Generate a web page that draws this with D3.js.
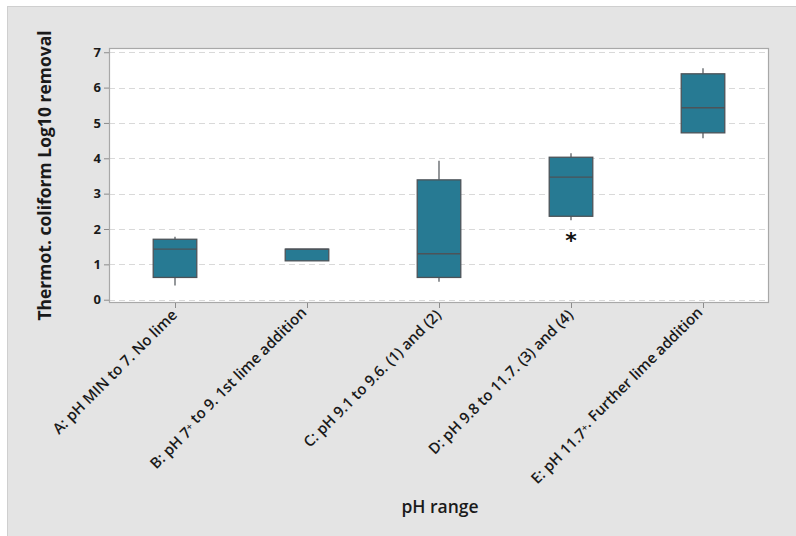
<!DOCTYPE html>
<html>
<head>
<meta charset="utf-8">
<script src="https://cdn.jsdelivr.net/npm/d3@7/dist/d3.min.js"></script>
<style>
  html, body { margin: 0; padding: 0; background: #ffffff; }
  svg { display: block; }
</style>
</head>
<body>
<script>
// pH range groups and their box-plot summaries (Log10 removal)
const categories = [
  "A: pH MIN to 7. No lime",
  "B: pH 7+ to 9. 1st lime addition",
  "C: pH 9.1  to 9.6. (1) and (2)",
  "D: pH 9.8 to 11.7. (3) and (4)",
  "E: pH 11.7+. Further lime addition"
];
const whiskerLow  = [0.40, 1.10, 0.51, 2.25, 4.57];
const q1          = [0.63, 1.10, 0.63, 2.36, 4.72];
const median      = [1.43, 1.43, 1.30, 3.47, 5.43];
const q3          = [1.71, 1.43, 3.39, 4.03, 6.39];
const whiskerHigh = [1.78, 1.43, 3.93, 4.14, 6.55];
const outliers    = [[], [], [], [1.78], []];
const yTicks = [0, 1, 2, 3, 4, 5, 6, 7];

const W = 796, H = 536;
const plot = { left: 109, top: 48, right: 769, bottom: 303 };

const svg = d3.select("body").append("svg")
  .attr("width", W).attr("height", H);

// grey outer panel
svg.append("rect")
  .attr("x", 7.5).attr("y", 6.5)
  .attr("width", W).attr("height", H)
  .attr("fill", "#e4e4e4").attr("stroke", "#cfcfcf");

const x = d3.scalePoint()
  .domain(categories)
  .range([plot.left, plot.right])
  .padding(0.5);

const y = d3.scaleLinear()
  .domain([-0.093, 7.12])
  .range([plot.bottom, plot.top]);

const step = x.step();
const boxW = step * 0.33;

// plotting area
svg.append("rect")
  .attr("x", plot.left).attr("y", plot.top)
  .attr("width", plot.right - plot.left).attr("height", plot.bottom - plot.top)
  .attr("fill", "#ffffff");

// horizontal dashed gridlines
svg.append("g").selectAll("line")
  .data(yTicks)
  .join("line")
  .attr("x1", plot.left).attr("x2", plot.right)
  .attr("y1", d => Math.round(y(d)) + 0.5).attr("y2", d => Math.round(y(d)) + 0.5)
  .attr("stroke", "#d9d9d9")
  .attr("stroke-width", 1)
  .attr("stroke-dasharray", "6,4");

// plot frame
svg.append("rect")
  .attr("x", plot.left + 0.5).attr("y", plot.top + 0.5)
  .attr("width", plot.right - plot.left - 1).attr("height", plot.bottom - plot.top - 1)
  .attr("fill", "none").attr("stroke", "#a8a8a8").attr("stroke-width", 1.2);

// y axis
const yAxis = svg.append("g")
  .attr("transform", `translate(${plot.left},0)`)
  .call(d3.axisLeft(y).tickValues(yTicks).tickSize(5).tickPadding(3).tickFormat(d3.format("d")));
yAxis.select(".domain").remove();
yAxis.selectAll(".tick line").attr("stroke", "#8c8c8c");
yAxis.selectAll(".tick text")
  .attr("fill", "#1a1a1a")
  .style("font-family", "'Noto Sans', 'Open Sans', sans-serif")
  .style("font-size", "13px")
  .style("font-weight", "bold");

// x axis
const xAxis = svg.append("g")
  .attr("transform", `translate(0,${plot.bottom})`)
  .call(d3.axisBottom(x).tickSize(5).tickFormat(""));
xAxis.select(".domain").remove();
xAxis.selectAll(".tick line").attr("stroke", "#8c8c8c");

// rotated category labels, with superscript "+"
const labelG = svg.append("g");
categories.forEach(c => {
  const t = labelG.append("text")
    .attr("transform", `translate(${x(c) + 3},${plot.bottom + 13}) rotate(-45)`)
    .attr("text-anchor", "end")
    .attr("fill", "#1a1a1a")
    .style("font-family", "'Open Sans', 'Noto Sans', sans-serif")
    .style("font-size", "15px")
    .style("font-weight", "600");
  const parts = c.split("+");
  parts.forEach((p, i) => {
    t.append("tspan").text(p);
    if (i < parts.length - 1) {
      t.append("tspan").attr("dy", "-0.35em").style("font-size", "10px").text("+");
      t.append("tspan").attr("dy", "0.35em").text("");
    }
  });
});

// boxes
const groups = svg.append("g").selectAll("g")
  .data(categories.map((c, i) => ({
    c, lo: whiskerLow[i], q1: q1[i], med: median[i], q3: q3[i], hi: whiskerHigh[i], out: outliers[i]
  })))
  .join("g");

const stroke = "#4d5358";
groups.append("line")
  .attr("x1", d => x(d.c)).attr("x2", d => x(d.c))
  .attr("y1", d => y(d.hi)).attr("y2", d => y(d.q3))
  .attr("stroke", stroke).attr("stroke-width", 1.2);
groups.append("line")
  .attr("x1", d => x(d.c)).attr("x2", d => x(d.c))
  .attr("y1", d => y(d.q1)).attr("y2", d => y(d.lo))
  .attr("stroke", stroke).attr("stroke-width", 1.2);
groups.append("rect")
  .attr("x", d => x(d.c) - boxW / 2)
  .attr("width", boxW)
  .attr("y", d => y(d.q3))
  .attr("height", d => y(d.q1) - y(d.q3))
  .attr("fill", "#277a93")
  .attr("stroke", stroke).attr("stroke-width", 1.3);
groups.append("line")
  .attr("x1", d => x(d.c) - boxW / 2).attr("x2", d => x(d.c) + boxW / 2)
  .attr("y1", d => y(d.med)).attr("y2", d => y(d.med))
  .attr("stroke", stroke).attr("stroke-width", 1.3);

// outliers drawn as asterisks
groups.selectAll("text.out")
  .data(d => d.out.map(v => ({ c: d.c, v })))
  .join("text")
  .attr("class", "out")
  .attr("x", d => x(d.c))
  .attr("y", d => y(d.v) + 11)
  .attr("text-anchor", "middle")
  .attr("fill", "#111")
  .style("font-family", "'DejaVu Sans', sans-serif")
  .style("font-size", "22px")
  .style("font-weight", "bold")
  .text("*");

// axis titles
svg.append("text")
  .attr("transform", `translate(51,${(plot.top + plot.bottom) / 2}) rotate(-90)`)
  .attr("text-anchor", "middle")
  .attr("fill", "#1a1a1a")
  .style("font-family", "'Open Sans', 'Noto Sans', sans-serif")
  .style("font-size", "17.5px")
  .style("font-weight", "bold")
  .text("Thermot. coliform Log10 removal");

svg.append("text")
  .attr("x", 440).attr("y", 513)
  .attr("text-anchor", "middle")
  .attr("fill", "#1a1a1a")
  .style("font-family", "'Open Sans', 'Noto Sans', sans-serif")
  .style("font-size", "17.5px")
  .style("font-weight", "600")
  .text("pH range");
</script>
</body>
</html>
